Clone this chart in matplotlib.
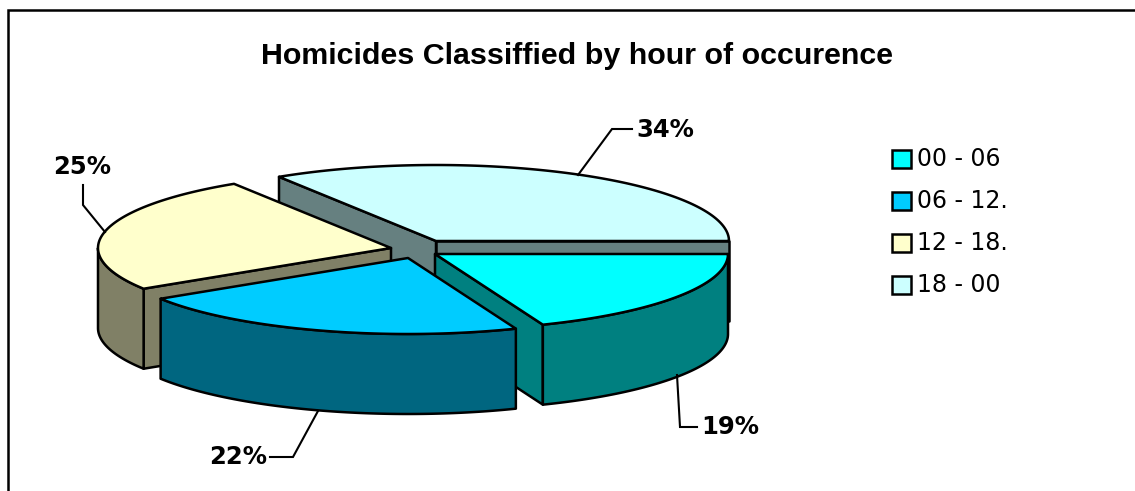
import numpy as np
import matplotlib
matplotlib.use("Agg")
import matplotlib.pyplot as plt
from matplotlib.patches import Polygon, Rectangle

title = "Homicides Classiffied by hour of occurence"
categories = ["00 - 06", "06 - 12.", "12 - 18.", "18 - 00"]
shares = [19, 22, 25, 34]

top_colors = ["#00FFFF", "#00CCFF", "#FFFFCC", "#CCFFFF"]
side_colors = ["#008080", "#006680", "#808066", "#668080"]

# pie geometry, in pixels of the picture
centers = [(435, 254), (408, 258), (391, 248), (436, 241)]
rx, ry, depth = 293, 76, 80
draw_order = [3, 2, 0, 1]

# label position and leader line of each slice
label_pos = [(730, 427), (238, 457), (82, 167), (665, 130)]
leaders = [
    [(677, 375), (680, 427), (697, 427)],
    [(318, 411), (293, 457), (270, 457)],
    [(105, 232), (83, 205), (83, 185)],
    [(578, 175), (612, 129), (632, 129)],
]

LW = 1.8

fig = plt.figure(figsize=(11.35, 4.91), dpi=100)
ax = fig.add_axes([0, 0, 1, 1])
ax.set_xlim(0, 1135)
ax.set_ylim(491, 0)
ax.axis("off")

# chart area border, cut off on the right and at the bottom
ax.plot([8, 8, 1135], [491, 10, 10], color="black", lw=LW, solid_joinstyle="miter")

edges = np.cumsum([0] + shares) / sum(shares) * 2 * np.pi


def rim(i, a, b):
    t = np.linspace(a, b, 120)
    cx, cy = centers[i]
    return np.column_stack([cx + rx * np.cos(t), cy + ry * np.sin(t)])


def wall(i, a):
    cx, cy = centers[i]
    x = cx + rx * np.cos(a)
    y = cy + ry * np.sin(a)
    return [(cx, cy), (x, y), (x, y + depth), (cx, cy + depth)]


for i in draw_order:
    a, b = edges[i], edges[i + 1]
    kw = dict(edgecolor="black", lw=LW, joinstyle="round")
    # cut faces, only those turned towards the viewer
    if np.cos(a) < 0:
        ax.add_patch(Polygon(wall(i, a), facecolor=side_colors[i], **kw))
    if np.cos(b) > 0:
        ax.add_patch(Polygon(wall(i, b), facecolor=side_colors[i], **kw))
    # outer wall, only the part that faces the viewer
    lo, hi = max(a, 0), min(b, np.pi)
    if hi > lo:
        arc = rim(i, lo, hi)
        lower = arc[::-1] + [0, depth]
        ax.add_patch(Polygon(np.vstack([arc, lower]), facecolor=side_colors[i], **kw))
    # top
    pts = np.vstack([[centers[i]], rim(i, a, b)])
    ax.add_patch(Polygon(pts, facecolor=top_colors[i], **kw))

for i, share in enumerate(shares):
    xs, ys = zip(*leaders[i])
    ax.plot(xs, ys, color="black", lw=1.5, solid_joinstyle="miter")
    ax.text(label_pos[i][0], label_pos[i][1], f"{share}%", ha="center", va="center",
            fontsize=17.5, fontweight="bold", family="DejaVu Sans")

ax.text(577, 56, title, ha="center", va="center", fontsize=21.9, fontweight="bold",
        family="Liberation Sans")

# legend
for i, cat in enumerate(categories):
    y = 159 + 42 * i
    ax.add_patch(Rectangle((892, y - 9), 19, 18, facecolor=top_colors[i],
                           edgecolor="black", lw=LW))
    ax.text(917, y, cat, ha="left", va="center", fontsize=17, family="DejaVu Sans")

fig.savefig("out.png", dpi=100)
